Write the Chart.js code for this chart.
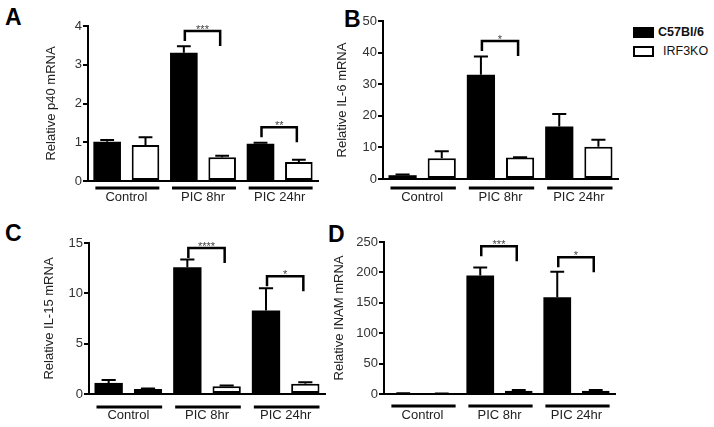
<!DOCTYPE html>
<html>
<head>
<meta charset="utf-8">
<script src="https://cdn.jsdelivr.net/npm/chart.js@4.4.1/dist/chart.umd.min.js"></script>
<style>
html, body { margin: 0; padding: 0; background: #fff; }
body { width: 714px; height: 427px; overflow: hidden; position: relative; font-family: Arial, 'Liberation Sans', sans-serif; }
.panel { position: absolute; }
.letter { position: absolute; font-weight: bold; font-size: 23px; line-height: 1; color: #000; }
.legend-row { position: absolute; left: 633px; height: 12px; display: flex; align-items: center; font-size: 12.5px; color: #111; }
.swatch { width: 21px; height: 11px; box-sizing: border-box; border: 2px solid #000; margin-right: 4px; }
</style>
</head>
<body>
<div class="letter" style="left:5px;top:6px">A</div>
<div class="letter" style="left:344px;top:8px">B</div>
<div class="letter" style="left:5px;top:222px">C</div>
<div class="letter" style="left:328px;top:223px">D</div>
<div id="legend"></div>

<div class="panel" id="panelA"><canvas id="chartA"></canvas></div>
<div class="panel" id="panelB"><canvas id="chartB"></canvas></div>
<div class="panel" id="panelC"><canvas id="chartC"></canvas></div>
<div class="panel" id="panelD"><canvas id="chartD"></canvas></div>

<script>
/**
 * DATA
 */
const groups = ['Control', 'PIC 8hr', 'PIC 24hr'];
const seriesNames = ['C57Bl/6', 'IRF3KO'];

const p40Wt = [1.01, 3.31, 0.96];
const p40WtErr = [0.05, 0.17, 0.03];
const p40Ko = [0.93, 0.61, 0.49];
const p40KoErr = [0.20, 0.04, 0.06];
const p40Ticks = [0, 4, 1];
const p40Sig = [[1, 3.87, '***'], [2, 1.39, '**']];

const il6Wt = [1.2, 33.0, 16.6];
const il6WtErr = [0.2, 5.8, 4.0];
const il6Ko = [6.6, 6.8, 10.2];
const il6KoErr = [2.2, 0.1, 2.2];
const il6Ticks = [0, 50, 10];
const il6Sig = [[1, 43.7, '*']];

const il15Wt = [1.1, 12.6, 8.3];
const il15WtErr = [0.28, 0.75, 2.2];
const il15Ko = [0.5, 0.78, 1.03];
const il15KoErr = [0.05, 0.06, 0.13];
const il15Ticks = [0, 15, 5];
const il15Sig = [[1, 14.5, '****'], [2, 11.7, '*']];

const inamWt = [1.0, 195, 159];
const inamWtErr = [0.3, 13, 42];
const inamKo = [0.5, 5.5, 5.5];
const inamKoErr = [0.2, 1.0, 1.0];
const inamTicks = [0, 250, 50];
const inamSig = [[1, 243, '***'], [2, 225, '*']];

const FONT = "Arial, 'Liberation Sans', sans-serif";

/**
 * LEGEND (html)
 */
const legendBox = document.getElementById('legend');
[['#000', 26, 'bold'], ['#fff', 45, 'normal']].forEach(([fill, top, weight], k) => {
    const row = document.createElement('div');
    row.className = 'legend-row';
    row.style.top = top + 'px';
    row.innerHTML = `<span class="swatch" style="background:${fill}"></span><span style="font-weight:${weight};margin-left:${k ? 5 : 0}px">${seriesNames[k]}</span>`;
    legendBox.appendChild(row);
});

/**
 * ERROR BARS, BRACKETS, GROUP UNDERLINES
 */
const annotate = {
    id: 'annotate',
    afterDraw(chart) {
        const opt = chart.options.plugins.annotate;
        const ctx = chart.ctx, ys = chart.scales.y, area = chart.chartArea;
        const m0 = chart.getDatasetMeta(0).data, m1 = chart.getDatasetMeta(1).data;
        ctx.save();
        ctx.strokeStyle = '#000';
        ctx.lineCap = 'butt';

        // upper error bars
        ctx.lineWidth = 2;
        chart.data.datasets.forEach((ds, d) => {
            chart.getDatasetMeta(d).data.forEach((bar, i) => {
                const top = ys.getPixelForValue(ds.data[i] + opt.errors[d][i]);
                const half = bar.width / 4;
                ctx.beginPath();
                ctx.moveTo(bar.x, bar.y); ctx.lineTo(bar.x, top);
                ctx.moveTo(bar.x - half, top); ctx.lineTo(bar.x + half, top);
                ctx.stroke();
            });
        });

        // significance brackets
        opt.brackets.forEach(([i, v, label]) => {
            const x1 = m0[i].x + 1, x2 = m1[i].x - 2, yy = ys.getPixelForValue(v);
            ctx.lineWidth = 2.5;
            ctx.beginPath();
            ctx.moveTo(x1, yy + 10); ctx.lineTo(x1, yy); ctx.lineTo(x2, yy); ctx.lineTo(x2, yy + 15);
            ctx.stroke();
            ctx.fillStyle = '#444';
            ctx.font = '11px ' + FONT;
            ctx.textAlign = 'center';
            ctx.textBaseline = 'alphabetic';
            ctx.fillText(label, (x1 + x2) / 2, yy + 2);
        });

        // group underlines
        ctx.lineWidth = 3;
        m0.forEach((bar, i) => {
            const yy = area.bottom + opt.underGap;
            ctx.beginPath();
            ctx.moveTo(bar.x - bar.width / 2 + 2, yy);
            ctx.lineTo(m1[i].x + m1[i].width / 2, yy);
            ctx.stroke();
        });
        ctx.restore();
    }
};

/**
 * CHART FACTORY
 */
function buildPanel(id, box, yTitle, wt, wtErr, ko, koErr, ticks, sig, style) {
    const left = box.l - 58, top = box.t - 10;
    const w = box.r + 12 - left, h = box.b + 35 - top;
    const panel = document.getElementById('panel' + id);
    panel.style.left = left + 'px'; panel.style.top = top + 'px';
    const cv = document.getElementById('chart' + id);
    cv.width = w; cv.height = h;
    cv.style.width = w + 'px'; cv.style.height = h + 'px';

    return new Chart(cv, {
        type: 'bar',
        data: {
            labels: groups,
            datasets: [
                { label: seriesNames[0], data: wt, backgroundColor: '#000', borderColor: '#000', borderWidth: 0 },
                { label: seriesNames[1], data: ko, backgroundColor: '#fff', borderColor: '#000', borderWidth: 2, borderSkipped: false }
            ]
        },
        options: {
            responsive: false,
            animation: false,
            devicePixelRatio: 1,
            categoryPercentage: 1.0,
            barPercentage: 0.72,
            layout: { padding: { top: 10, right: 12, left: 0, bottom: 0 } },
            plugins: {
                legend: { display: false },
                tooltip: { enabled: false },
                annotate: { errors: [wtErr, koErr], brackets: sig, underGap: style.underGap }
            },
            scales: {
                x: {
                    offset: true,
                    grid: { display: false, drawTicks: false },
                    border: { display: true, color: '#000', width: 2 },
                    ticks: { color: '#222', padding: style.labelPad, font: { family: FONT, size: 13 } },
                    afterFit: s => { s.height = 35; }
                },
                y: {
                    min: ticks[0], max: ticks[1],
                    grid: { drawOnChartArea: false, drawTicks: true, tickLength: 5, color: '#000', lineWidth: 2 },
                    border: { display: true, color: '#000', width: 2 },
                    ticks: { stepSize: ticks[2], color: '#333', padding: 1, font: { family: FONT, size: 13 } },
                    title: { display: true, text: yTitle, color: '#222', padding: { top: style.titlePad, bottom: 0 }, font: { family: FONT, size: 13 } },
                    afterFit: s => { s.width = 58; }
                }
            }
        },
        plugins: [annotate]
    });
}

buildPanel('A', { l: 88, t: 26, r: 318, b: 181 }, 'Relative p40 mRNA', p40Wt, p40WtErr, p40Ko, p40KoErr, p40Ticks, p40Sig,
    { titlePad: 14, labelPad: 9, underGap: 7 });
buildPanel('B', { l: 383, t: 21, r: 618, b: 179 }, 'Relative IL-6 mRNA', il6Wt, il6WtErr, il6Ko, il6KoErr, il6Ticks, il6Sig,
    { titlePad: 10, labelPad: 11, underGap: 9 });
buildPanel('C', { l: 89, t: 243, r: 325, b: 394 }, 'Relative IL-15 mRNA', il15Wt, il15WtErr, il15Ko, il15KoErr, il15Ticks, il15Sig,
    { titlePad: 11, labelPad: 14, underGap: 13 });
buildPanel('D', { l: 384, t: 242, r: 615, b: 394 }, 'Relative INAM mRNA', inamWt, inamWtErr, inamKo, inamKoErr, inamTicks, inamSig,
    { titlePad: 6, labelPad: 14, underGap: 12 });
</script>
</body>
</html>
